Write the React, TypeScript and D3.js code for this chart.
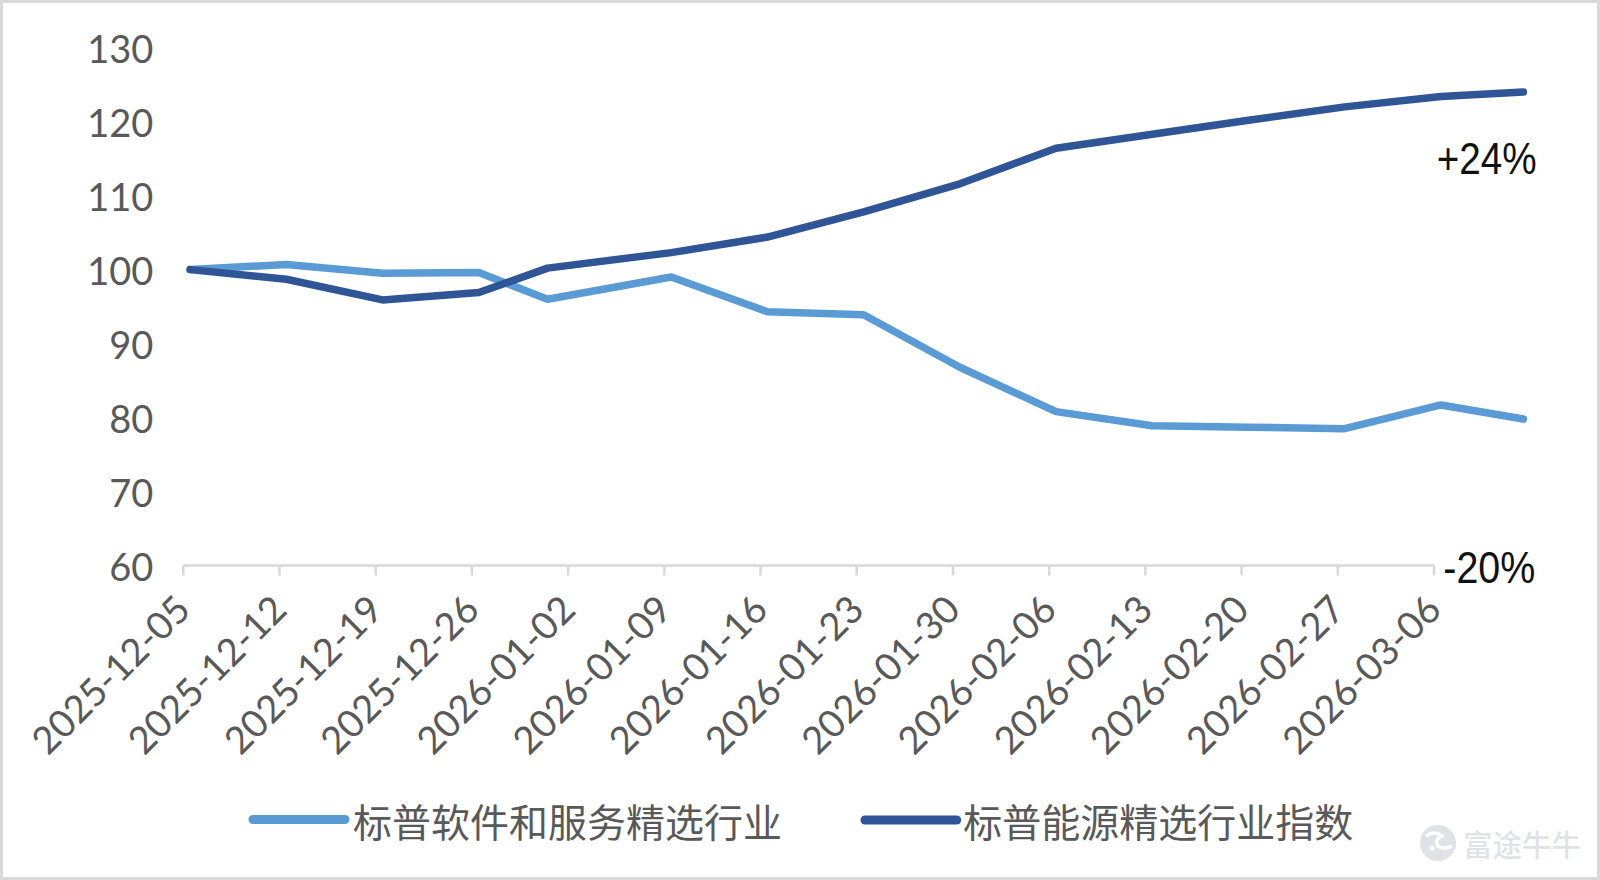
import React from "react";
import * as d3 from "d3";

const dates = [
  "2025-12-05", "2025-12-12", "2025-12-19", "2025-12-26", "2025-12-31",
  "2026-01-09", "2026-01-16", "2026-01-23", "2026-01-30", "2026-02-06",
  "2026-02-13", "2026-02-20", "2026-02-27", "2026-03-06", "2026-03-12",
];
const software = [100, 100.7, 99.5, 99.6, 96.0, 99.0, 94.3, 93.9, 86.8, 80.8, 78.9, 78.7, 78.5, 81.7, 79.8];
const energy = [100, 98.7, 95.9, 96.9, 100.2, 102.3, 104.4, 107.8, 111.6, 116.4, 118.3, 120.2, 122.0, 123.4, 124.0];
const tickLabels = [
  "2025-12-05", "2025-12-12", "2025-12-19", "2025-12-26", "2026-01-02",
  "2026-01-09", "2026-01-16", "2026-01-23", "2026-01-30", "2026-02-06",
  "2026-02-13", "2026-02-20", "2026-02-27", "2026-03-06",
];
const yTicks = [60, 70, 80, 90, 100, 110, 120, 130];
const seriesNames = ["标普软件和服务精选行业", "标普能源精选行业指数"];
const annotations = ["+24%", "-20%"];
const watermark = "富途牛牛";

const parse = (s: string) => new Date(s + "T00:00:00Z");
const HALF_DAY = 12 * 3600 * 1000;

export default function App() {
  const x = d3
    .scaleUtc()
    .domain([parse(tickLabels[0]), parse(tickLabels[tickLabels.length - 1])])
    .range([183.3, 1434]);
  const y = d3.scaleLinear().domain([60, 130]).range([565.5, 47.7]);

  const pts = (vals: number[]) =>
    vals.map((v, i) => [x(new Date(parse(dates[i]).getTime() + HALF_DAY)), y(v)] as [number, number]);
  const line = d3.line<[number, number]>();

  const labelFont = "'Lato', 'Noto Sans', sans-serif";
  const cjk = "'Noto Sans CJK SC', sans-serif";
  const axisY = y(60);

  return (
    <svg
      width={1600}
      height={880}
      style={{ position: "absolute", left: 0, top: 0, background: "#fff" }}
    >
      <rect x={0} y={0} width={1600} height={880} fill="#fff" />
      <rect x={1.5} y={1.5} width={1597} height={877} fill="none" stroke="#d9d9d9" strokeWidth={3} />

      {/* y labels */}
      {yTicks.map((t) => (
        <text
          key={t}
          x={153.3}
          y={y(t)}
          textAnchor="end"
          dominantBaseline="central"
          fontFamily={labelFont}
          fontSize={38}
          fill="#595959"
        >
          {t}
        </text>
      ))}

      {/* x axis */}
      <line x1={x(parse(tickLabels[0]))} x2={x(parse(tickLabels[tickLabels.length - 1]))} y1={axisY} y2={axisY} stroke="#d9d9d9" strokeWidth={2.5} />
      {tickLabels.map((t) => {
        const tx = x(parse(t));
        return (
          <g key={t}>
            <line x1={tx} x2={tx} y1={axisY} y2={axisY + 10} stroke="#d9d9d9" strokeWidth={2.5} />
            <text
              transform={`translate(${tx},${axisY + 37}) rotate(-45)`}
              textAnchor="end"
              dy="0.35em"
              fontFamily={labelFont}
              fontSize={38}
              fill="#595959"
            >
              {t}
            </text>
          </g>
        );
      })}

      {/* lines */}
      <path d={line(pts(software)) || ""} fill="none" stroke="#5B9BD5" strokeWidth={7.5} strokeLinejoin="round" strokeLinecap="round" />
      <path d={line(pts(energy)) || ""} fill="none" stroke="#2F5597" strokeWidth={7.5} strokeLinejoin="round" strokeLinecap="round" />

      {/* annotations */}
      <text x={1436.7} y={174} fontFamily="'Liberation Sans', Arial, sans-serif" fontSize={44} fill="#111" textLength={100} lengthAdjust="spacingAndGlyphs">
        {annotations[0]}
      </text>
      <rect x={1440} y={548} width={98} height={38} fill="#fff" />
      <text x={1443.3} y={583.3} fontFamily="'Liberation Sans', Arial, sans-serif" fontSize={44} fill="#111" textLength={92} lengthAdjust="spacingAndGlyphs">
        {annotations[1]}
      </text>

      {/* legend */}
      <line x1={253} x2={345} y1={819.5} y2={819.5} stroke="#5B9BD5" strokeWidth={9} strokeLinecap="round" />
      <text x={353} y={819.5} dominantBaseline="central" fontFamily={cjk} fontSize={39} fill="#595959">
        {seriesNames[0]}
      </text>
      <line x1={865} x2={956.7} y1={820} y2={820} stroke="#2F5597" strokeWidth={9} strokeLinecap="round" />
      <text x={963.3} y={820} dominantBaseline="central" fontFamily={cjk} fontSize={39} fill="#595959">
        {seriesNames[1]}
      </text>

      {/* watermark */}
      <g>
        <circle cx={1438} cy={843} r={18} fill="#dfe3e8" />
        <path d="M1426,836 q8,-6 16,0 q-8,4 -4,10 q6,4 14,0" fill="none" stroke="#fff" strokeWidth={3.5} />
        <circle cx={1432} cy={848} r={2.5} fill="#fff" />
        <text x={1463} y={842.5} dominantBaseline="central" fontFamily={cjk} fontWeight={500} fontSize={29.5} fill="#dfe3e8">
          {watermark}
        </text>
      </g>
    </svg>
  );
}
